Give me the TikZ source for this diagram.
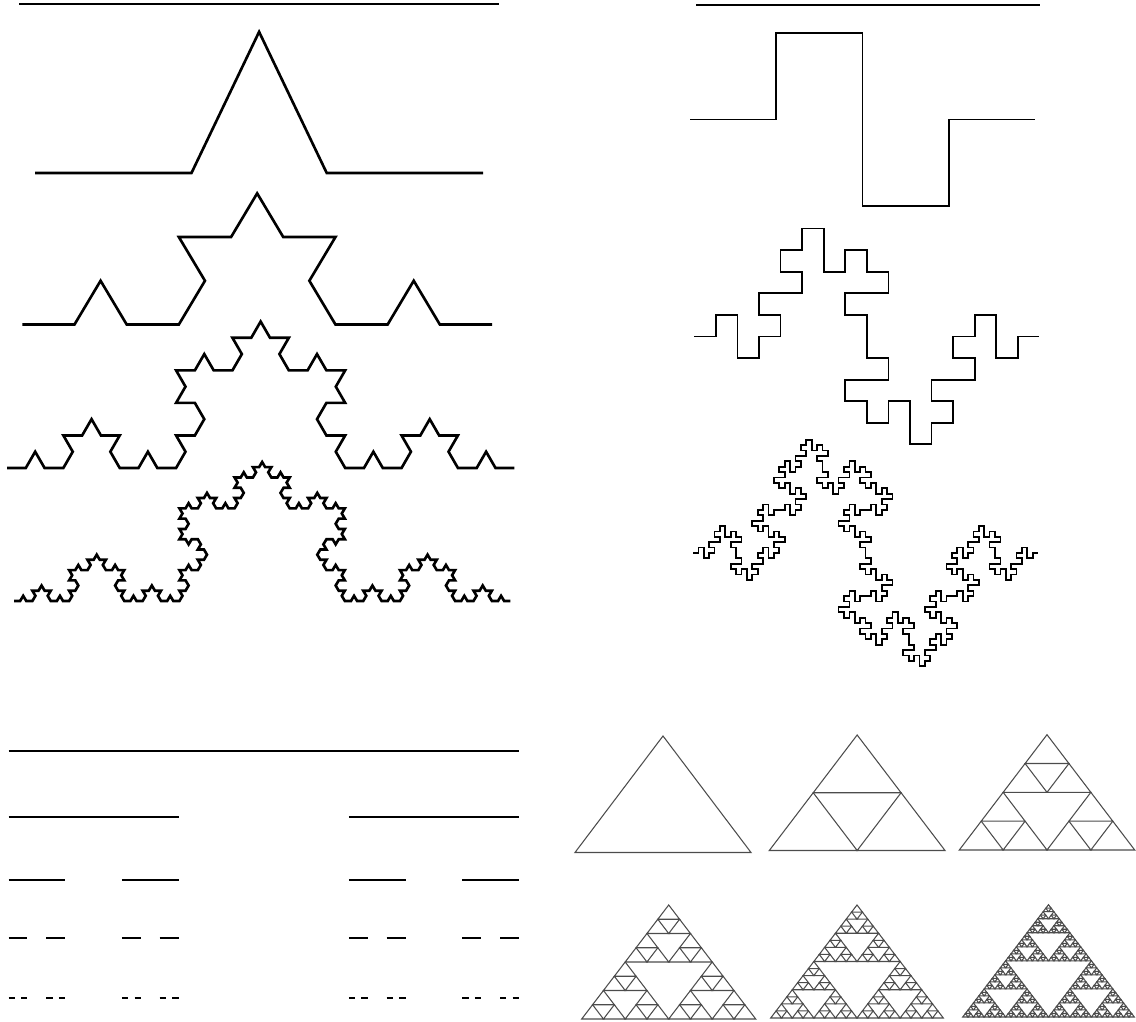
\documentclass[tikz,border=0pt]{standalone}
\usetikzlibrary{lindenmayersystems, decorations.fractals}

\pgfdeclarelindenmayersystem{Koch bump}{\rule{F -> F+F--F+F}}
\pgfdeclarelindenmayersystem{square wave}{\rule{F -> F+F-F-FF+F+F-F}}

% Sierpinski gasket in the unit triangle (0,0)-(1,0)-(0.5,1)
\newcommand\gasket[1]{%
  \ifnum#1<1
    \draw[gasketpen] (0,0) -- (1,0) -- (0.5,1) -- cycle;
  \else
    \begin{scope}[scale=0.5]\gasket{\numexpr#1-1\relax}\end{scope}%
    \begin{scope}[shift={(0.5,0)}, scale=0.5]\gasket{\numexpr#1-1\relax}\end{scope}%
    \begin{scope}[shift={(0.25,0.5)}, scale=0.5]\gasket{\numexpr#1-1\relax}\end{scope}%
  \fi}

\begin{document}
\begin{tikzpicture}[
    x=0.01cm, y=0.01cm,
    kochpen/.style={line width=0.75pt, black},
    wavepen/.style={line width=0.5pt, black},
    cantorpen/.style={line width=0.75pt, black, decoration=Cantor set},
    gasketpen/.style={line width=0.3pt, black!70}
]
\useasboundingbox (0,0) rectangle (1136,1022);

% Koch curve, orders 0 to 4
\draw[kochpen] (19,1018) -- (499,1018);
\begin{scope}[shift={(35,849)}]
  \draw[kochpen, l-system={Koch bump, axiom=F, order=1, angle=64.4, step=1.564cm}] (0,0) lindenmayer system;
\end{scope}
\begin{scope}[shift={(22.3,697.5)}, yscale=0.967]
  \draw[kochpen, l-system={Koch bump, axiom=F, order=2, angle=60, step=0.5216cm}] (0,0) lindenmayer system;
\end{scope}
\begin{scope}[shift={(7,554)}]
  \draw[kochpen, l-system={Koch bump, axiom=F, order=3, angle=60, step=0.18778cm}] (0,0) lindenmayer system;
\end{scope}
\begin{scope}[shift={(14,421)}, yscale=0.97]
  \draw[kochpen, l-system={Koch bump, axiom=F, order=4, angle=60, step=0.06123cm}] (0,0) lindenmayer system;
\end{scope}

% quadratic Koch curve, orders 0 to 3
\draw[wavepen] (696,1017) -- (1040,1017);
\begin{scope}[shift={(690,902.5)}]
  \draw[wavepen, l-system={square wave, axiom=F, order=1, angle=90, step=0.8625cm}] (0,0) lindenmayer system;
\end{scope}
\begin{scope}[shift={(694.3,685.5)}]
  \draw[wavepen, l-system={square wave, axiom=F, order=2, angle=90, step=0.2156cm}] (0,0) lindenmayer system;
\end{scope}
\begin{scope}[shift={(693,469)}]
  \draw[wavepen, l-system={square wave, axiom=F, order=3, angle=90, step=0.0539cm}] (0,0) lindenmayer system;
\end{scope}

% Cantor set, orders 0 to 4
\draw[cantorpen] (8.5,271) -- (519,271);
\draw[cantorpen] decorate{(8.5,205) -- (519,205)};
\draw[cantorpen] decorate{decorate{(8.5,142) -- (519,142)}};
\draw[cantorpen] decorate{decorate{decorate{(8.5,84) -- (519,84)}}};
\draw[cantorpen] decorate{decorate{decorate{decorate{(8.5,24) -- (519,24)}}}};

% Sierpinski gaskets, orders 0 to 5
\foreach \ord/\bx/\by/\w/\h in {0/575/169.5/176/116.5, 1/769.3/171.5/175.7/115.5,
    2/959.3/172/175.4/115.3, 3/581.7/3/174/114, 4/770.7/4/172.6/113, 5/962.7/5/171.6/112.3}
  \begin{scope}[shift={(\bx,\by)}, xscale=\w, yscale=\h]
    \gasket{\ord}
  \end{scope};

\end{tikzpicture}
\end{document}
